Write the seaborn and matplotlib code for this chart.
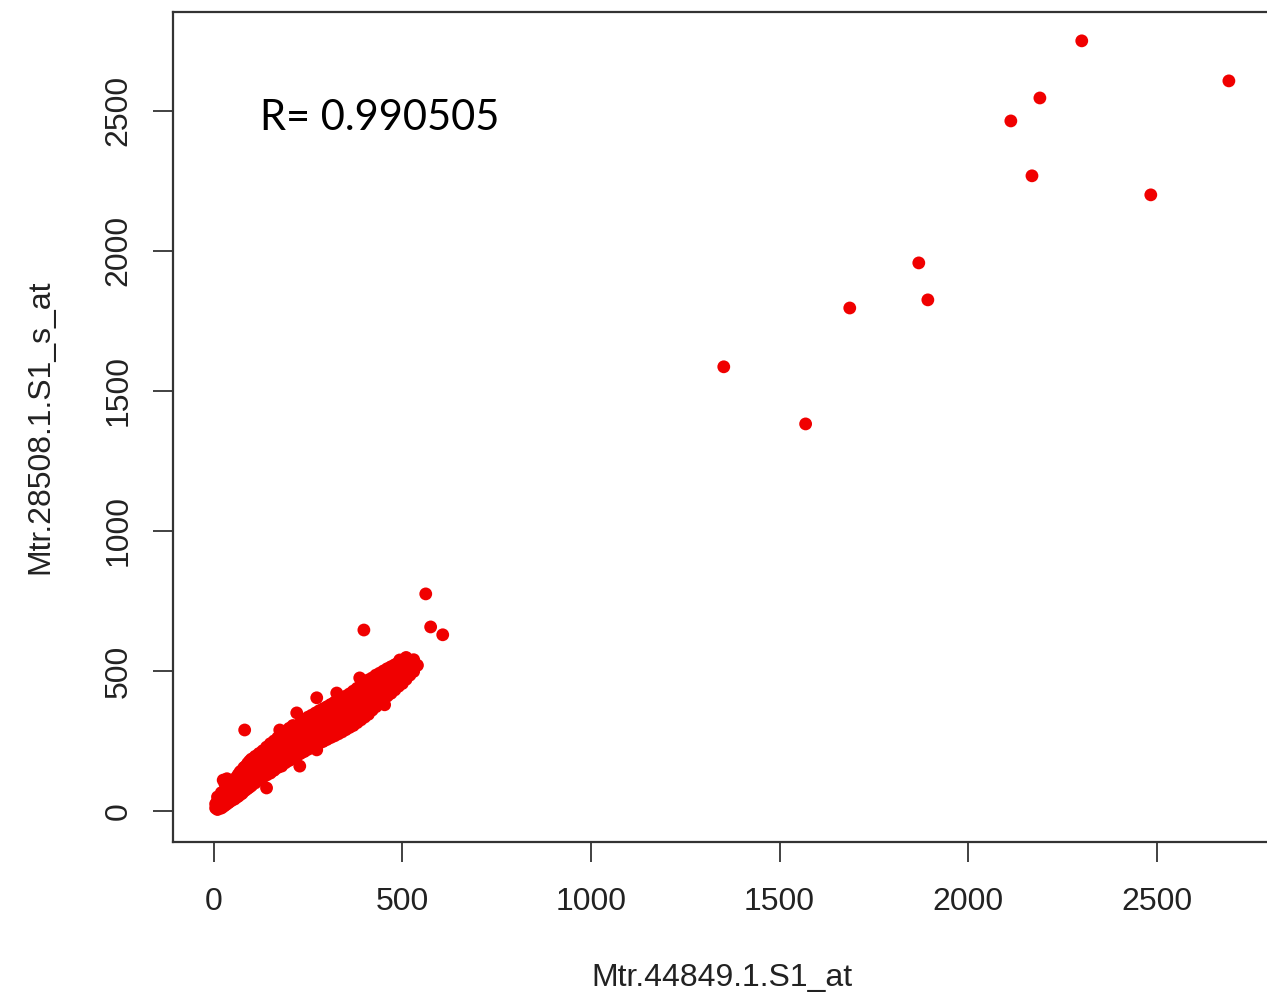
import matplotlib
matplotlib.use("Agg")
import matplotlib.pyplot as plt
import seaborn as sns
import pandas as pd

# expression values (dense cluster first, then the outliers)
x_vals = [5, 5, 10, 10, 10, 10, 15, 15, 15, 20, 20, 20, 20, 25, 25, 25, 25, 30, 30, 30,
          30, 35, 35, 35, 35, 40, 40, 40, 45, 45, 45, 50, 50, 50, 55, 55, 55, 60, 60, 60,
          65, 65, 65, 70, 70, 70, 75, 75, 75, 80, 80, 80, 82, 85, 85, 85, 90, 90, 90, 95,
          95, 95, 100, 100, 100, 110, 110, 110, 120, 120, 120, 130, 130, 130, 140, 140, 140, 140, 150, 150,
          150, 160, 160, 160, 170, 170, 170, 175, 180, 180, 180, 190, 190, 190, 200, 200, 200, 210, 210, 210,
          220, 220, 220, 230, 230, 230, 240, 240, 240, 250, 250, 250, 260, 260, 260, 270, 270, 270, 280, 280,
          280, 290, 290, 290, 300, 300, 300, 310, 310, 310, 320, 320, 320, 330, 330, 330, 340, 340, 340, 350,
          350, 350, 360, 360, 360, 370, 370, 370, 380, 380, 380, 390, 390, 390, 398, 400, 400, 400, 410, 410,
          410, 420, 420, 420, 430, 430, 430, 440, 440, 440, 450, 450, 450, 453, 460, 460, 460, 470, 470, 470,
          480, 480, 480, 490, 490, 490, 500, 500, 500, 510, 510, 510, 520, 520, 530, 530, 540, 562, 575, 607,
          42, 42, 52, 52, 62, 62, 72, 72, 87, 87, 97, 97,
          105, 105, 115, 115, 125, 125, 135, 135, 145, 145, 155, 155, 165, 165, 175, 175, 185, 185, 195, 195,
          205, 205, 215, 215, 225, 225, 235, 235, 245, 245, 255, 255, 265, 265, 275, 275, 285, 285, 295, 295,
          305, 305, 315, 315, 325, 325, 335, 335, 345, 345, 355, 355, 365, 365, 375, 375, 385, 385, 395, 395,
          405, 405, 415, 415, 425, 425, 435, 435, 445, 445, 455, 455, 465, 465, 475, 475, 485, 485, 495, 495,
          505, 505, 515, 515,
          273, 326, 387, 228, 273, 493,
          1352, 1569, 1686, 1869, 1893, 2113, 2190, 2169, 2301, 2484, 2691]
y_vals = [10, 25, 5, 18, 35, 50, 12, 28, 45, 10, 22, 40, 65, 15, 35, 55, 110, 20, 42, 70,
          95, 25, 50, 80, 115, 30, 55, 85, 35, 65, 95, 40, 70, 105, 42, 78, 110, 48, 85, 120,
          52, 90, 130, 58, 98, 140, 62, 105, 145, 70, 112, 155, 289, 75, 120, 160, 80, 128, 170, 85,
          135, 178, 90, 140, 185, 100, 150, 195, 110, 160, 205, 120, 172, 215, 82, 128, 185, 228, 135, 195,
          240, 145, 205, 250, 155, 215, 262, 289, 160, 225, 272, 172, 235, 282, 180, 245, 295, 188, 255, 305,
          195, 262, 350, 205, 262, 315, 212, 270, 325, 220, 278, 335, 228, 285, 342, 235, 292, 350, 242, 300,
          358, 248, 308, 365, 255, 315, 372, 262, 322, 380, 268, 330, 388, 275, 336, 395, 282, 344, 402, 290,
          352, 410, 298, 360, 418, 305, 368, 428, 315, 378, 438, 325, 388, 448, 646, 335, 398, 458, 345, 410,
          468, 360, 425, 475, 372, 435, 485, 385, 448, 492, 395, 460, 500, 379, 410, 470, 508, 420, 480, 515,
          432, 492, 522, 445, 505, 530, 455, 515, 538, 470, 525, 548, 485, 532, 498, 540, 520, 775, 657, 629,
          45, 70, 55, 88, 65, 100, 75, 118, 95, 140, 112, 155,
          118, 165, 128, 175, 138, 188, 150, 200, 158, 212, 168, 222, 178, 235, 190, 248, 198, 258, 208, 270,
          218, 280, 228, 290, 235, 298, 240, 300, 248, 305, 252, 312, 262, 318, 268, 328, 275, 335, 285, 342,
          290, 350, 296, 358, 305, 365, 312, 372, 320, 380, 325, 385, 335, 395, 345, 405, 352, 412, 360, 420,
          372, 432, 390, 450, 400, 455, 412, 468, 425, 478, 435, 488, 445, 495, 455, 505, 470, 515, 482, 525,
          495, 535, 505, 540,
          404, 421, 475, 160, 218, 539,
          1586, 1382, 1796, 1957, 1825, 2464, 2546, 2268, 2750, 2200, 2607]

x_name = "Mtr.44849.1.S1_at"
y_name = "Mtr.28508.1.S1_s_at"
r_label = "R= 0.990505"
tick_vals = [0, 500, 1000, 1500, 2000, 2500]

df = pd.DataFrame({x_name: x_vals, y_name: y_vals})

sns.set_theme(style="white")
plt.rcParams["font.family"] = ["Liberation Sans", "DejaVu Sans"]

fig = plt.figure(figsize=(12.67, 10.02), dpi=100)
ax = fig.add_axes([173 / 1267, 160 / 1002, 1097 / 1267, 830 / 1002])

sns.scatterplot(data=df, x=x_name, y=y_name, color="#f00000", s=85,
                edgecolor="none", linewidth=0, ax=ax)

ax.set_xlim(-108, 2800)
ax.set_ylim(-111, 2853)
ax.set_xticks(tick_vals)
ax.set_yticks(tick_vals)
ax.set_xticklabels([str(v) for v in tick_vals])
ax.set_yticklabels([str(v) for v in tick_vals], rotation=90, va="center")
ax.tick_params(axis="both", which="major", direction="out", length=14.5,
               width=1.3, color="#333333", labelsize=23, labelcolor="#222222",
               bottom=True, left=True)
ax.tick_params(axis="x", pad=18)
ax.tick_params(axis="y", pad=14)

for side in ["left", "bottom", "top", "right"]:
    ax.spines[side].set_color("#333333")
    ax.spines[side].set_linewidth(1.6)

ax.set_xlabel(x_name, fontsize=23, color="#222222", va="center")
ax.set_ylabel(y_name, fontsize=23, color="#222222", va="center")
ax.xaxis.set_label_coords(0.5, -(978 - 842) / 830)
ax.yaxis.set_label_coords(-(173 - 40) / 1097, 0.5)

ax.text(122, 2475, r_label, fontsize=30, family=["Lato", "DejaVu Sans"],
        color="black", ha="left", va="center")

fig.savefig("out.png", dpi=100)
